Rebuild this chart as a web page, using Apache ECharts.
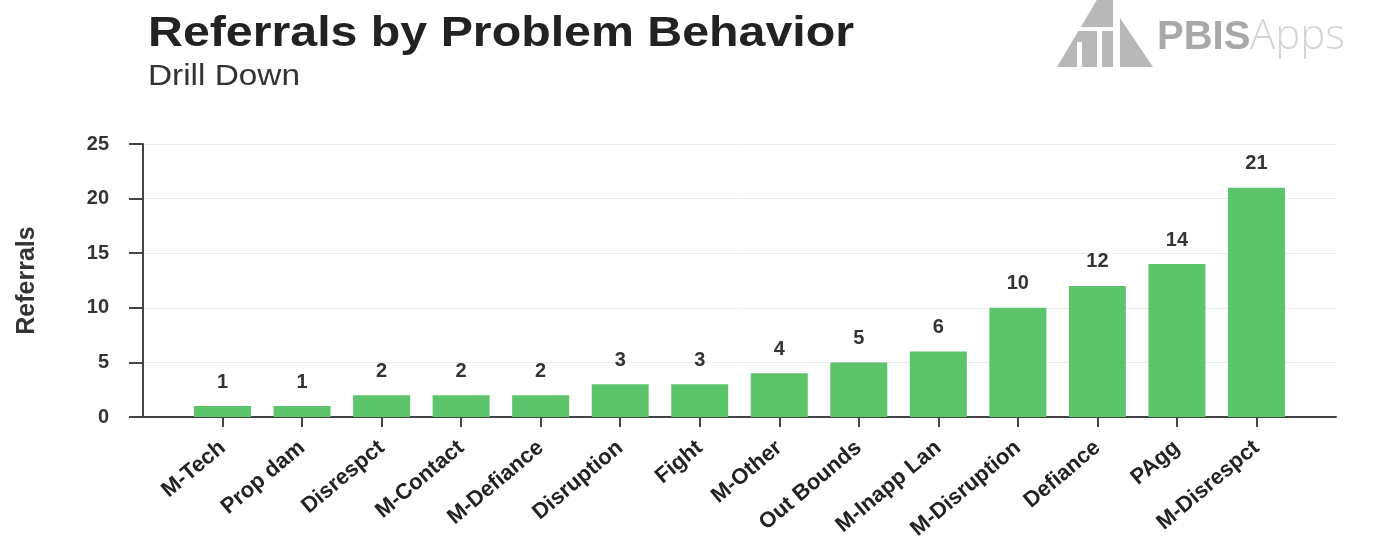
<!DOCTYPE html>
<html>
<head>
<meta charset="utf-8">
<script src="https://cdn.jsdelivr.net/npm/echarts@6/dist/echarts.min.js"></script>
<style>
html,body{margin:0;padding:0;background:#fff;}
#chart{width:1377px;height:555px;}
</style>
</head>
<body>
<div id="chart"></div>
<script>
const titleText = 'Referrals by Problem Behavior';
const subtitleText = 'Drill Down';
const yAxisName = 'Referrals';
const categories = ['M-Tech','Prop dam','Disrespct','M-Contact','M-Defiance','Disruption','Fight','M-Other','Out Bounds','M-Inapp Lan','M-Disruption','Defiance','PAgg','M-Disrespct'];
const referrals = [1,1,2,2,2,3,3,4,5,6,10,12,14,21];
const yTicks = [0,5,10,15,20,25];

// pad with an empty slot on each side (the chart leaves a gap at both ends)
const axisCats = [''].concat(categories, ['']);
const axisData = [null].concat(referrals, [null]);
const last = axisCats.length - 1;

const chart = echarts.init(document.getElementById('chart'));
chart.setOption({
  backgroundColor: '#ffffff',
  animation: false,
  grid: {left: 143, right: 41, top: 144, bottom: 138},
  xAxis: {
    type: 'category',
    data: axisCats,
    boundaryGap: false,
    axisLine: {lineStyle: {color: '#444', width: 2}},
    axisTick: {
      length: 10,
      lineStyle: {color: '#444', width: 2},
      interval: function (i) { return i > 0 && i < last; }
    },
    axisLabel: {
      interval: 0,
      rotate: 40,
      margin: 28,
      fontFamily: 'Liberation Sans, Arial, sans-serif',
      fontWeight: 'bold',
      fontSize: 22,
      color: '#222'
    },
    splitLine: {show: false}
  },
  yAxis: {
    type: 'value',
    min: yTicks[0],
    max: yTicks[yTicks.length - 1],
    interval: 5,
    name: yAxisName,
    nameLocation: 'middle',
    nameGap: 103,
    nameRotate: 90,
    nameTextStyle: {fontFamily: 'Liberation Sans, Arial, sans-serif', fontWeight: 'bold', fontSize: 25, color: '#333'},
    axisLine: {show: true, lineStyle: {color: '#444', width: 2}},
    axisTick: {show: true, length: 14, lineStyle: {color: '#444', width: 2}},
    axisLabel: {
      margin: 34,
      fontFamily: 'Liberation Sans, Arial, sans-serif',
      fontWeight: 'bold',
      fontSize: 20,
      color: '#333'
    },
    splitLine: {show: true, lineStyle: {color: '#ececec', width: 1}}
  },
  series: [{
    type: 'bar',
    data: axisData,
    barWidth: 57,
    itemStyle: {color: '#5cc46b'},
    label: {
      show: true,
      position: 'top',
      distance: 14,
      fontFamily: 'Liberation Sans, Arial, sans-serif',
      fontWeight: 'bold',
      fontSize: 20,
      color: '#333'
    }
  }],
  graphic: [
    {type: 'text', x: 148, y: 13, scaleX: 1.15,
      style: {text: titleText, font: 'bold 42px "Liberation Sans", Arial, sans-serif', fill: '#222', textVerticalAlign: 'top'}},
    {type: 'text', x: 148, y: 62, scaleX: 1.15,
      style: {text: subtitleText, font: '29px "Liberation Sans", Arial, sans-serif', fill: '#333', textVerticalAlign: 'top'}},
    // logo icon
    {type: 'polygon', shape: {points: [[1057,67],[1098,-2],[1113,-2],[1113,67]]}, style: {fill: '#b8b8b8'}},
    {type: 'rect', shape: {x: 1077, y: 42, width: 5, height: 26}, style: {fill: '#fff'}},
    {type: 'rect', shape: {x: 1097, y: 30, width: 5, height: 38}, style: {fill: '#fff'}},
    {type: 'rect', shape: {x: 1068, y: 27, width: 46, height: 4}, style: {fill: '#fff'}},
    {type: 'polygon', shape: {points: [[1120,18],[1153,67],[1120,67]]}, style: {fill: '#b8b8b8'}},
    {type: 'text', x: 1157, y: 58,
      style: {text: 'PBIS', font: 'bold 40px "Liberation Sans", Arial, sans-serif', fill: '#a8a8a8', textVerticalAlign: 'bottom'}},
    {type: 'text', x: 1250, y: 58,
      style: {text: 'Apps', font: '300 42px "Open Sans", "Liberation Sans", sans-serif', fill: '#d4d4d4', textVerticalAlign: 'bottom'}}
  ]
});
</script>
</body>
</html>
